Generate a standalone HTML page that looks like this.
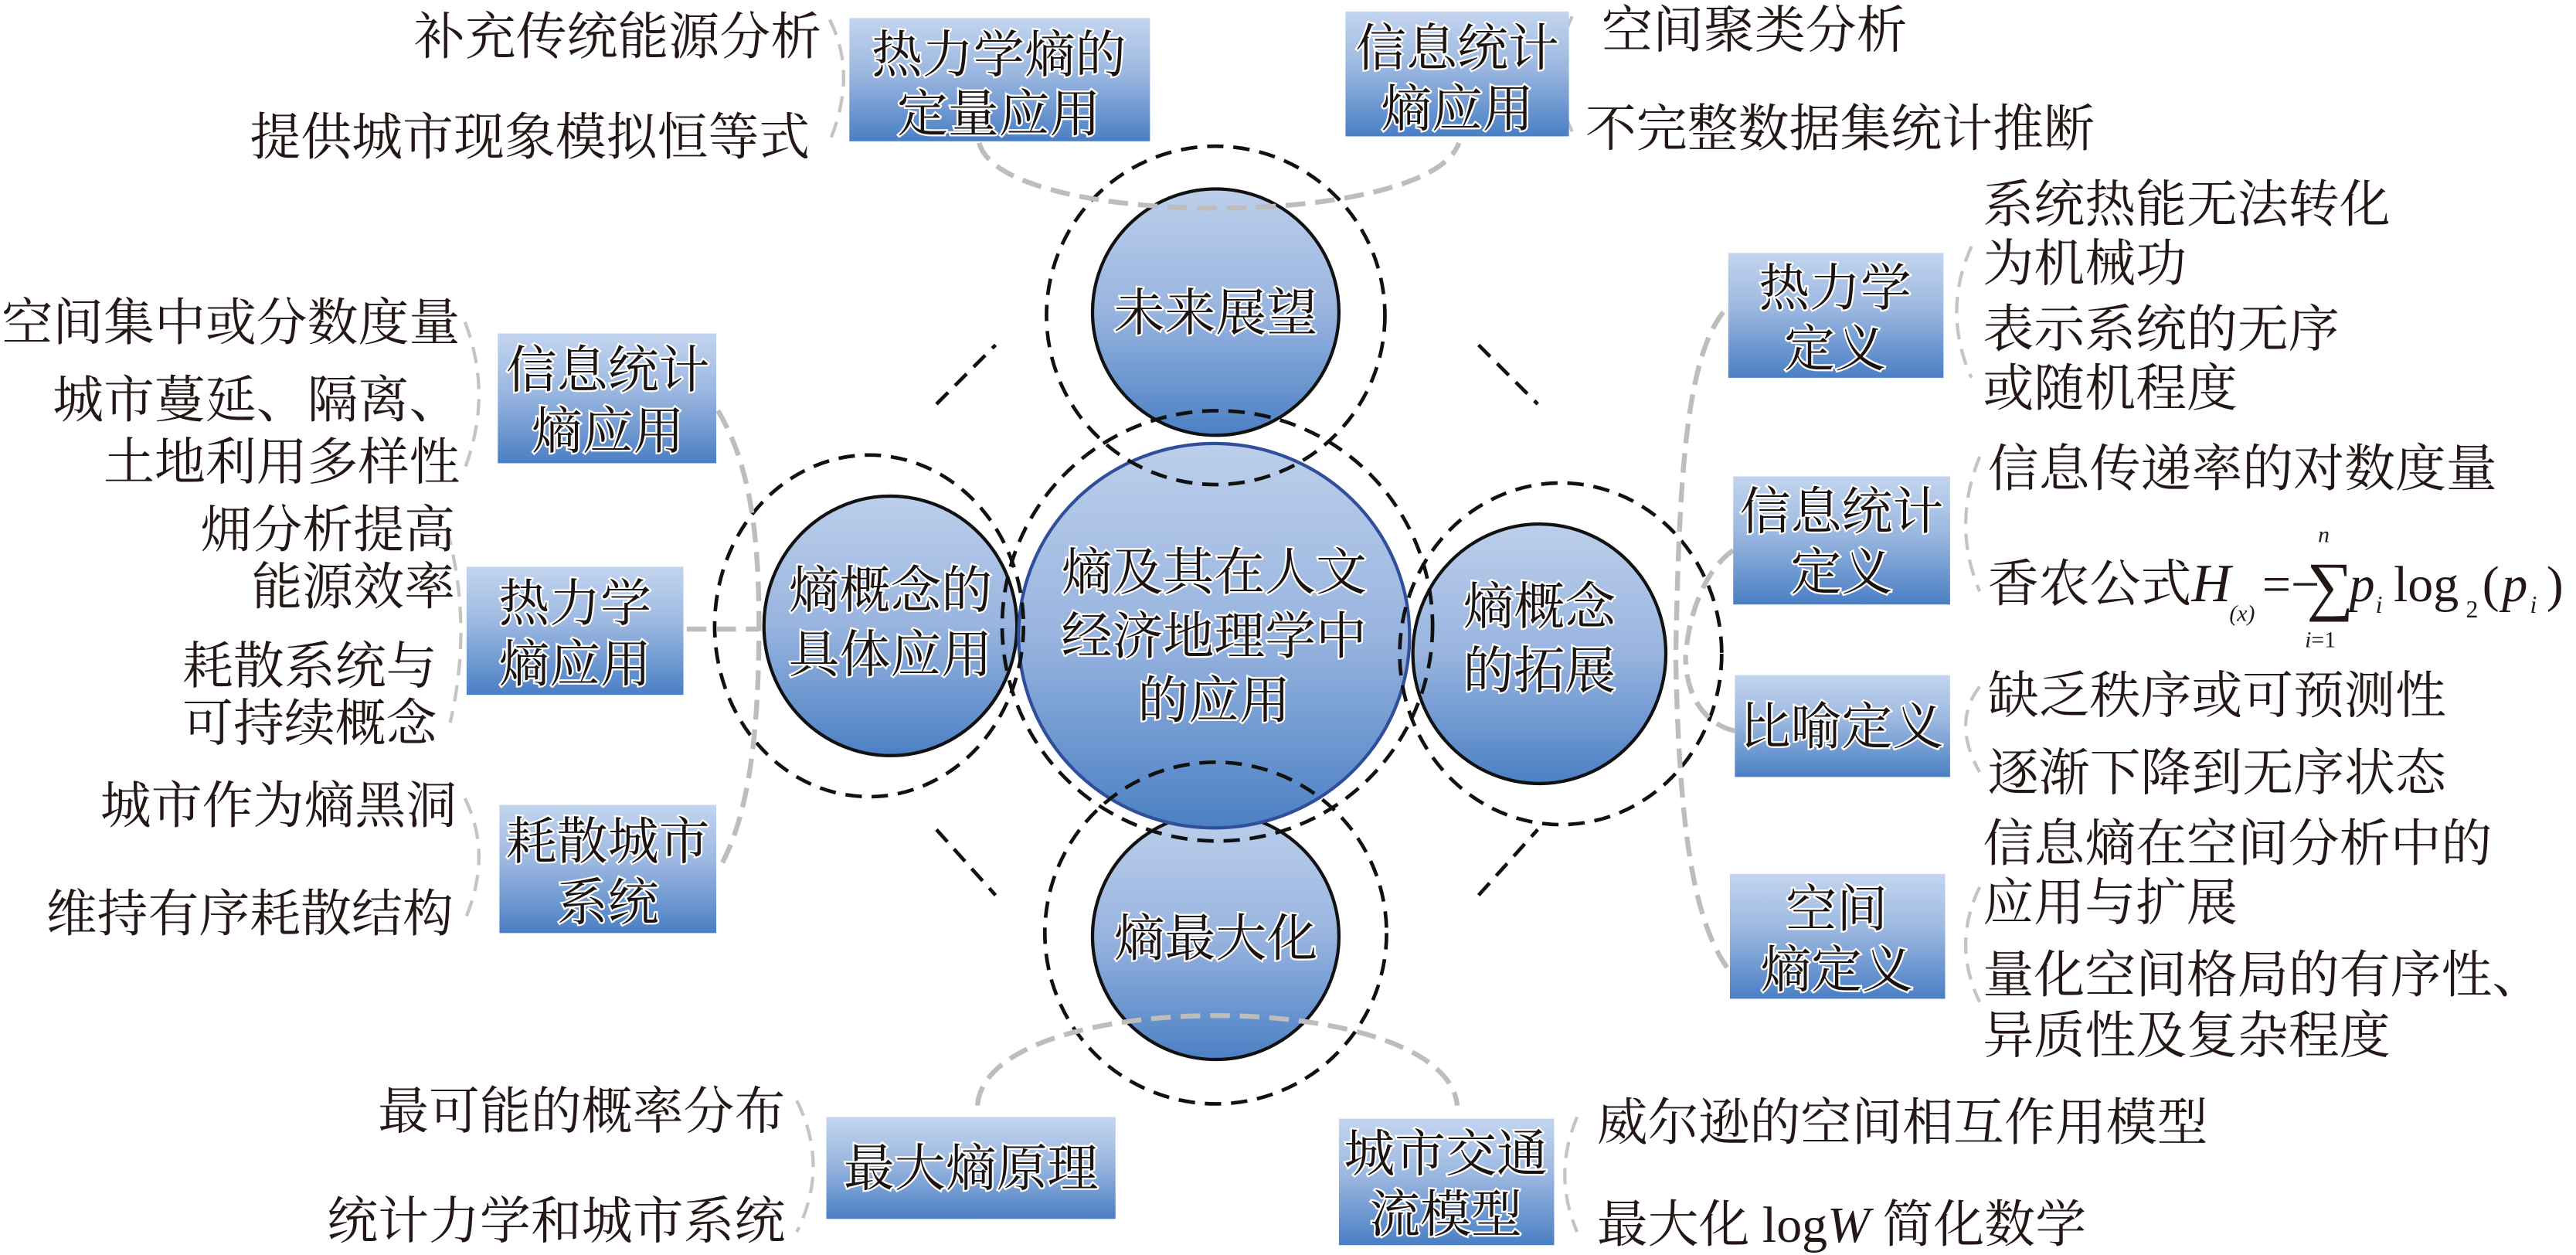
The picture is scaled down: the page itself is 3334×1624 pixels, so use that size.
<!DOCTYPE html>
<html><head><meta charset="utf-8">
<style>
html,body{margin:0;padding:0;background:#fff;}
svg{display:block;}
text{font-family:"Liberation Serif","Noto Serif CJK SC",serif;fill:#231815;}
.t{font-size:31px;}
.c{font-size:31px;stroke:#fff;stroke-width:2.2px;paint-order:stroke;fill:#1a1311;text-anchor:middle;}
.r{text-anchor:end;}
.g{fill:none;stroke:#bdbdbd;stroke-width:3;stroke-dasharray:12 6;}
.g2{fill:none;stroke:#c4c4c4;stroke-width:2;stroke-dasharray:10 6;}
.d{fill:none;stroke:#111;stroke-width:2.2;stroke-dasharray:10 6;}
</style></head>
<body>
<svg width="3334" height="1624" viewBox="0 0 1568 764" preserveAspectRatio="none" xmlns="http://www.w3.org/2000/svg">
<defs>
<linearGradient id="bg" x1="0" y1="0" x2="0" y2="1">
<stop offset="0" stop-color="#c3d5ef"/><stop offset="0.45" stop-color="#9bb7e0"/><stop offset="1" stop-color="#4a7fc4"/>
</linearGradient>
<linearGradient id="cg" x1="0" y1="0" x2="0" y2="1">
<stop offset="0" stop-color="#bccfeb"/><stop offset="0.5" stop-color="#98b4df"/><stop offset="1" stop-color="#4b80c4"/>
</linearGradient>
</defs>

<line class="d" x1="570" y1="246" x2="606" y2="210"/>
<line class="d" x1="900" y1="210" x2="936" y2="246"/>
<line class="d" x1="570" y1="505" x2="606" y2="545"/>
<line class="d" x1="900" y1="545" x2="936" y2="505"/>

<circle cx="740" cy="190" r="75" fill="url(#cg)" stroke="#111" stroke-width="2"/>
<circle cx="740" cy="570" r="75" fill="url(#cg)" stroke="#111" stroke-width="2"/>
<ellipse cx="542" cy="381" rx="77" ry="79" fill="url(#cg)" stroke="#111" stroke-width="2"/>
<ellipse cx="937" cy="398" rx="77" ry="79" fill="url(#cg)" stroke="#111" stroke-width="2"/>
<ellipse cx="739" cy="387" rx="119" ry="117" fill="url(#cg)" stroke="#2f4f9a" stroke-width="2"/>

<circle class="d" cx="740" cy="192" r="103"/>
<circle class="d" cx="740" cy="568" r="104"/>
<ellipse class="d" cx="529" cy="381" rx="94" ry="104"/>
<ellipse class="d" cx="950" cy="398" rx="98" ry="104"/>
<circle class="d" cx="741" cy="381" r="131"/>

<path class="g" d="M596,87 C610,140 870,140 888,87"/>
<path class="g" d="M595,673 C600,600 880,600 887,673"/>
<path class="g2" d="M505,12 Q522,45 505,86"/>
<path class="g2" d="M957,10 Q940,45 957,80"/>
<path class="g2" d="M283,196 Q300,240 283,285"/>
<path class="g2" d="M272,322 Q288,380 274,440"/>
<path class="g2" d="M283,486 Q300,520 283,560"/>
<path class="g2" d="M485,670 Q505,710 485,750"/>
<path class="g2" d="M960,680 Q945,715 960,750"/>
<path class="g2" d="M1200,150 Q1182,190 1200,230"/>
<path class="g2" d="M1205,278 Q1188,320 1205,360"/>
<path class="g2" d="M1205,418 Q1188,440 1205,470"/>
<path class="g2" d="M1205,540 Q1188,575 1205,610"/>
<path class="g" d="M437,250 C455,280 462,320 462,380 C462,450 455,500 437,530"/>
<line class="g" x1="418" y1="383" x2="462" y2="383"/>
<path class="g" d="M1049,190 C1025,220 1022,300 1020,400 C1022,500 1030,560 1052,590"/>
<path class="g" d="M1055,335 C1040,345 1028,370 1026,400"/>
<path class="g" d="M1056,445 C1035,440 1026,420 1026,400"/>

<rect x="517" y="11" width="183" height="75" fill="url(#bg)"/>
<rect x="819" y="7" width="136" height="76" fill="url(#bg)"/>
<rect x="303" y="203" width="133" height="79" fill="url(#bg)"/>
<rect x="284" y="345" width="132" height="78" fill="url(#bg)"/>
<rect x="304" y="490" width="132" height="78" fill="url(#bg)"/>
<rect x="503" y="680" width="176" height="62" fill="url(#bg)"/>
<rect x="815" y="681" width="131" height="77" fill="url(#bg)"/>
<rect x="1052" y="154" width="131" height="76" fill="url(#bg)"/>
<rect x="1055" y="290" width="132" height="78" fill="url(#bg)"/>
<rect x="1056" y="411" width="131" height="62" fill="url(#bg)"/>
<rect x="1053" y="532" width="131" height="76" fill="url(#bg)"/>

<text class="c" x="608" y="44">热力学熵的</text>
<text class="c" x="608" y="80">定量应用</text>
<text class="c" x="887" y="40">信息统计</text>
<text class="c" x="887" y="77">熵应用</text>
<text class="c" x="370" y="236">信息统计</text>
<text class="c" x="370" y="273">熵应用</text>
<text class="c" x="350" y="378">热力学</text>
<text class="c" x="350" y="415">熵应用</text>
<text class="c" x="370" y="523">耗散城市</text>
<text class="c" x="370" y="560">系统</text>
<text class="c" x="591" y="722">最大熵原理</text>
<text class="c" x="880" y="713">城市交通</text>
<text class="c" x="880" y="750">流模型</text>
<text class="c" x="1117" y="186">热力学</text>
<text class="c" x="1117" y="223">定义</text>
<text class="c" x="1121" y="322">信息统计</text>
<text class="c" x="1121" y="359">定义</text>
<text class="c" x="1121" y="453">比喻定义</text>
<text class="c" x="1118" y="564">空间</text>
<text class="c" x="1118" y="601">熵定义</text>

<text class="c" x="740" y="201">未来展望</text>
<text class="c" x="740" y="582">熵最大化</text>
<text class="c" x="542" y="370">熵概念的</text>
<text class="c" x="542" y="409">具体应用</text>
<text class="c" x="937" y="380">熵概念</text>
<text class="c" x="937" y="419">的拓展</text>
<text class="c" x="739" y="359">熵及其在人文</text>
<text class="c" x="739" y="398">经济地理学中</text>
<text class="c" x="739" y="437">的应用</text>

<text class="t r" x="500" y="33">补充传统能源分析</text>
<text class="t r" x="493" y="94">提供城市现象模拟恒等式</text>
<text class="t r" x="280" y="207">空间集中或分数度量</text>
<text class="t r" x="280" y="254">城市蔓延、隔离、</text>
<text class="t r" x="280" y="292">土地利用多样性</text>
<text class="t r" x="277" y="333">㶲分析提高</text>
<text class="t r" x="277" y="368">能源效率</text>
<text class="t r" x="266" y="416">耗散系统与</text>
<text class="t r" x="266" y="451">可持续概念</text>
<text class="t r" x="278" y="501">城市作为熵黑洞</text>
<text class="t r" x="276" y="567">维持有序耗散结构</text>
<text class="t r" x="478" y="687">最可能的概率分布</text>
<text class="t r" x="478" y="754">统计力学和城市系统</text>

<text class="t" x="975" y="29">空间聚类分析</text>
<text class="t" x="965" y="89">不完整数据集统计推断</text>
<text class="t" x="1207" y="135">系统热能无法转化</text>
<text class="t" x="1207" y="171">为机械功</text>
<text class="t" x="1207" y="211">表示系统的无序</text>
<text class="t" x="1207" y="247">或随机程度</text>
<text class="t" x="1210" y="296">信息传递率的对数度量</text>
<text class="t" x="1210" y="366">香农公式</text>
<text x="1334" y="366" font-size="33" font-style="italic">H</text>
<text x="1357" y="378" font-size="14" font-style="italic">(x)</text>
<text x="1377" y="366" font-size="31">=−</text>
<text x="1404" y="370" font-size="40">∑</text>
<text x="1430" y="366" font-size="31" font-style="italic">p</text>
<text x="1446" y="373" font-size="15" font-style="italic">i</text>
<text x="1457" y="366" font-size="31">log</text>
<text x="1501" y="376" font-size="15">2</text>
<text x="1511" y="366" font-size="31">(</text>
<text x="1523" y="366" font-size="31" font-style="italic">p</text>
<text x="1540" y="373" font-size="15" font-style="italic">i</text>
<text x="1550" y="366" font-size="31">)</text>
<text x="1411" y="330" font-size="14" font-style="italic">n</text>
<text x="1403" y="394" font-size="14"><tspan font-style="italic">i</tspan>=1</text>
<text class="t" x="1210" y="434">缺乏秩序或可预测性</text>
<text class="t" x="1210" y="481">逐渐下降到无序状态</text>
<text class="t" x="1207" y="524">信息熵在空间分析中的</text>
<text class="t" x="1207" y="560">应用与扩展</text>
<text class="t" x="1207" y="604">量化空间格局的有序性、</text>
<text class="t" x="1207" y="641">异质性及复杂程度</text>
<text class="t" x="972" y="694">威尔逊的空间相互作用模型</text>
<text class="t" x="972" y="756">最大化 log<tspan font-style="italic">W</tspan> 简化数学</text>
</svg>
</body></html>
